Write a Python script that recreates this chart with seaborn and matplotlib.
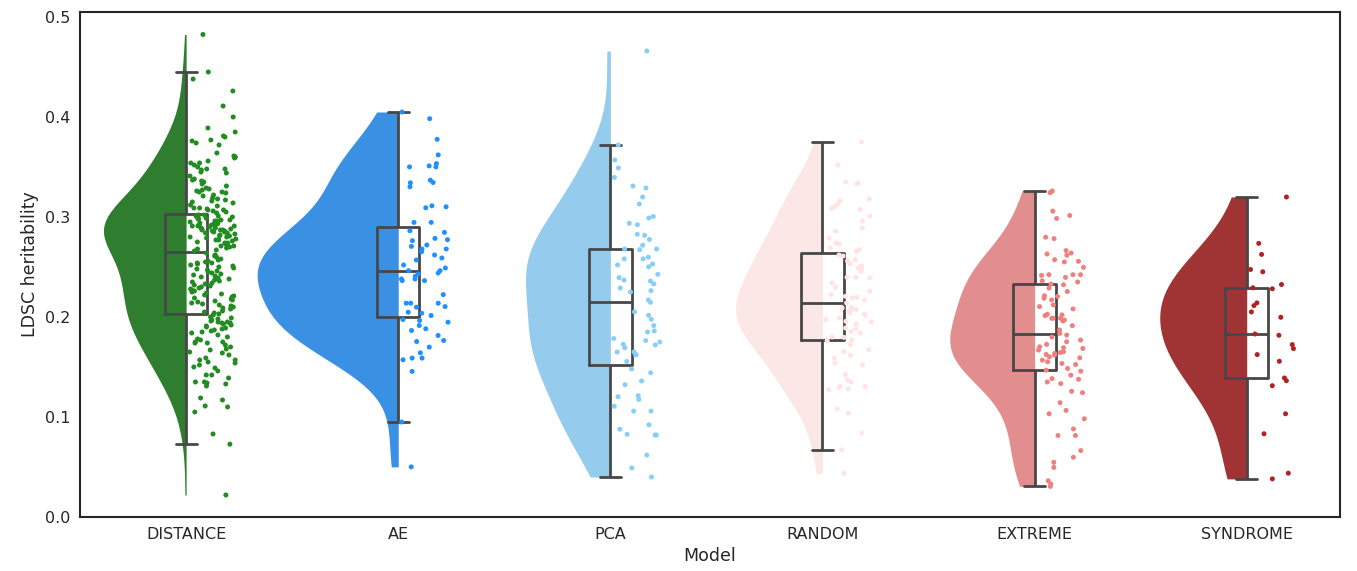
import numpy as np
import pandas as pd
import matplotlib
matplotlib.use("Agg")
import matplotlib.pyplot as plt
import seaborn as sns

sns.set_style("white")

models = ["DISTANCE", "AE", "PCA", "RANDOM", "EXTREME", "SYNDROME"]
palette = ["forestgreen", "dodgerblue", "lightskyblue", "mistyrose", "lightcoral", "firebrick"]

# values (LDSC heritability per run)
distance = [0.4825, 0.445, 0.438, 0.426, 0.411, 0.400, 0.389, 0.385, 0.381, 0.377,
            0.380, 0.376, 0.374, 0.372, 0.364, 0.361, 0.360, 0.359, 0.354, 0.354,
            0.350, 0.348, 0.352, 0.348, 0.347, 0.344, 0.338, 0.337, 0.335, 0.331,
            0.327, 0.325, 0.324, 0.326, 0.325, 0.317, 0.316, 0.318, 0.311, 0.309,
            0.308, 0.307, 0.306, 0.304,
            0.305, 0.307, 0.309, 0.312, 0.314, 0.315, 0.319, 0.321, 0.322, 0.328,
            0.329, 0.333, 0.336, 0.341, 0.345, 0.356,
            0.302, 0.301, 0.299, 0.298, 0.297, 0.296, 0.294, 0.292, 0.291, 0.291,
            0.289, 0.287, 0.287, 0.286, 0.284, 0.282, 0.281, 0.280, 0.277, 0.276,
            0.274, 0.272, 0.271, 0.269,
            0.266, 0.267, 0.268, 0.270, 0.271, 0.273, 0.274, 0.275, 0.277, 0.278,
            0.279, 0.280, 0.281, 0.283, 0.284, 0.285, 0.285, 0.286, 0.287, 0.288,
            0.289, 0.290, 0.291, 0.292, 0.293, 0.294, 0.295, 0.296, 0.297, 0.298,
            0.299, 0.300, 0.301, 0.302, 0.293, 0.288,
            0.264, 0.262, 0.261, 0.257, 0.256, 0.254, 0.252, 0.254, 0.251, 0.249,
            0.246, 0.244, 0.242, 0.239, 0.237, 0.235, 0.232, 0.229, 0.227, 0.225,
            0.223, 0.220, 0.222, 0.219, 0.215, 0.214, 0.212, 0.209, 0.205, 0.204,
            0.203, 0.206, 0.208, 0.210, 0.211, 0.213, 0.216, 0.217, 0.218, 0.221,
            0.224, 0.226, 0.228, 0.230, 0.231, 0.233, 0.234, 0.236, 0.238, 0.240,
            0.241, 0.243, 0.245, 0.247, 0.248, 0.250, 0.253, 0.255, 0.258, 0.260,
            0.202, 0.200, 0.199, 0.197, 0.195, 0.194, 0.195, 0.194, 0.192, 0.190,
            0.189, 0.187, 0.184, 0.185, 0.177, 0.175, 0.175, 0.174, 0.174, 0.170,
            0.168, 0.167, 0.165, 0.164, 0.159, 0.157, 0.157, 0.154, 0.152, 0.150,
            0.149, 0.146, 0.142, 0.142, 0.139, 0.135, 0.134, 0.135, 0.133, 0.131,
            0.119, 0.117, 0.111, 0.110, 0.105, 0.083, 0.0728, 0.022,
            0.198, 0.196, 0.193, 0.191, 0.188, 0.186, 0.182, 0.180, 0.178, 0.172,
            0.162, 0.155]

ae = [0.405, 0.3983, 0.3777, 0.3621, 0.3534, 0.3511, 0.3501, 0.3501, 0.3368, 0.3345,
      0.3342, 0.3302, 0.3112, 0.3102, 0.3092, 0.2946, 0.2946, 0.2863, 0.2846, 0.2786,
      0.2773, 0.2763, 0.272, 0.2706, 0.268, 0.268, 0.2653, 0.262, 0.259, 0.257,
      0.252, 0.249, 0.2463, 0.2463, 0.244, 0.243, 0.2407, 0.238, 0.238, 0.2364,
      0.2364, 0.2224, 0.2138, 0.2138, 0.2138, 0.2104, 0.2098, 0.2048, 0.2038, 0.2015,
      0.1975, 0.1965, 0.1948, 0.1915, 0.1882, 0.1865, 0.1815, 0.1765, 0.1755, 0.1699,
      0.1642, 0.1589, 0.1589, 0.1572, 0.1456, 0.095, 0.0501]

pca = [0.466, 0.372, 0.357, 0.349, 0.3395, 0.331, 0.329, 0.320, 0.313, 0.3005,
       0.299, 0.2937, 0.2923, 0.2827, 0.2817, 0.2776, 0.2718, 0.268, 0.268, 0.2673,
       0.2598, 0.2581, 0.2581, 0.253, 0.252, 0.2502, 0.2427, 0.2393, 0.2369, 0.2359,
       0.2331, 0.229, 0.2263, 0.2249, 0.217, 0.2147, 0.2051, 0.2017, 0.1976, 0.1914,
       0.186, 0.1784, 0.1764, 0.175, 0.1726, 0.1692, 0.1651, 0.1623, 0.1623, 0.1555,
       0.148, 0.1442, 0.136, 0.1323, 0.1213, 0.1203, 0.1176, 0.1107, 0.1059, 0.1059,
       0.0922, 0.0878, 0.082, 0.082, 0.0827, 0.062, 0.0491, 0.040,
       0.185, 0.172, 0.165]

random_ = [0.375, 0.352, 0.334, 0.333, 0.335, 0.318, 0.316, 0.3125, 0.310, 0.3085,
           0.3075, 0.301, 0.2958, 0.289, 0.2858, 0.279, 0.274, 0.273, 0.269, 0.2675,
           0.2658, 0.262, 0.261, 0.2574, 0.256, 0.253, 0.2508, 0.249, 0.2484, 0.2457,
           0.2397, 0.2397, 0.2391, 0.234, 0.2297, 0.2257, 0.2224, 0.2207, 0.2197, 0.219,
           0.2167, 0.214, 0.2097, 0.208, 0.2073, 0.2057, 0.204, 0.2017, 0.199, 0.1973,
           0.1957, 0.193, 0.189, 0.1856, 0.1839, 0.1796, 0.1773, 0.1763, 0.1723, 0.1672,
           0.1656, 0.1616, 0.1589, 0.1539, 0.1522, 0.1422, 0.1372, 0.1349, 0.1305, 0.1295,
           0.1305, 0.1282, 0.1272, 0.1081, 0.1038, 0.0837, 0.0671, 0.0437,
           0.180, 0.188, 0.195, 0.203, 0.209]

extreme = [0.3243, 0.326, 0.3059, 0.3015, 0.2985, 0.2798, 0.2784, 0.2664, 0.264, 0.263,
           0.2617, 0.2573, 0.2557, 0.255, 0.2496, 0.2423, 0.2423, 0.2423, 0.2416, 0.2396,
           0.2362, 0.235, 0.2329, 0.2322, 0.2289, 0.2255, 0.2205, 0.2212, 0.2188, 0.2171,
           0.2121, 0.2104, 0.2081, 0.2027, 0.2021, 0.2014, 0.1987, 0.1987, 0.1987, 0.197,
           0.196, 0.1913, 0.187, 0.1836, 0.1819, 0.180, 0.1769, 0.1752, 0.1726, 0.1702,
           0.1692, 0.1686, 0.1669, 0.1652, 0.1645, 0.1635, 0.1625, 0.1618, 0.1602, 0.1592,
           0.1568, 0.1552, 0.1535, 0.1525, 0.1485, 0.1468, 0.1458, 0.1418, 0.1384, 0.1377,
           0.135, 0.1334, 0.1257, 0.1243, 0.1143, 0.1066, 0.1032, 0.0982, 0.0881, 0.0815,
           0.0815, 0.0664, 0.0597, 0.0547, 0.0496, 0.0362, 0.0329, 0.0306]

syndrome = [0.320, 0.2736, 0.2626, 0.2475, 0.2452, 0.2325, 0.2292, 0.2282, 0.2141, 0.2114,
            0.2051, 0.1997, 0.1830, 0.1817, 0.1724, 0.1684, 0.1624, 0.1557, 0.1390, 0.1363,
            0.1313, 0.1032, 0.0832, 0.0438, 0.0381]

values = [distance, ae, pca, random_, extreme, syndrome]
viol_widths = [0.39, 0.665, 0.40, 0.41, 0.40, 0.41]

df = pd.concat([pd.DataFrame({"Model": m, "h2": v}) for m, v in zip(models, values)],
               ignore_index=True)

fig, ax = plt.subplots(figsize=(13.57, 5.71), dpi=100)
fig.subplots_adjust(left=0.059, right=0.9875, top=0.979, bottom=0.0946)

# half violins (one call per model so each gets its own width)
for m, c, w in zip(models, palette, viol_widths):
    sub = df[df.Model == m]
    n0 = len(ax.collections)
    sns.violinplot(data=sub, x="Model", y="h2", order=models, color=c, split=True,
                   inner=None, cut=0, density_norm="width", width=w, linewidth=0, ax=ax)
    # seaborn puts the flat side at +w/2; move it back onto the category centre
    for coll in ax.collections[n0:]:
        for p in coll.get_paths():
            p.vertices[:, 0] -= w / 2

# rain: jittered points shifted to the right of each violin
n_before = len(ax.collections)
sns.stripplot(data=df, x="Model", y="h2", order=models, hue="Model", hue_order=models,
              palette=palette, jitter=0.11, size=3.6, linewidth=0, legend=False, ax=ax)
for coll in ax.collections[n_before:]:
    off = coll.get_offsets()
    if len(off):
        coll.set_offsets(off + np.array([0.125, 0.0]))

sns.boxplot(data=df, x="Model", y="h2", order=models, width=0.2, fill=False,
            color="0.28", linewidth=2, showfliers=False, ax=ax)

ax.set_xlim(-0.5, 5.44)
ax.set_ylim(0, 0.505)
ax.set_yticks([0.0, 0.1, 0.2, 0.3, 0.4, 0.5])
ax.set_yticklabels(["0.0", "0.1", "0.2", "0.3", "0.4", "0.5"])
ax.tick_params(labelsize=11.5, colors="0.15")
ax.set_xlabel("Model", fontsize=12.5, color="0.15")
ax.set_ylabel("LDSC heritability", fontsize=12.5, color="0.15")
for sp in ax.spines.values():
    sp.set_visible(True)
    sp.set_color("0.15")
    sp.set_linewidth(1.5)

fig.savefig("out.png", dpi=100)
